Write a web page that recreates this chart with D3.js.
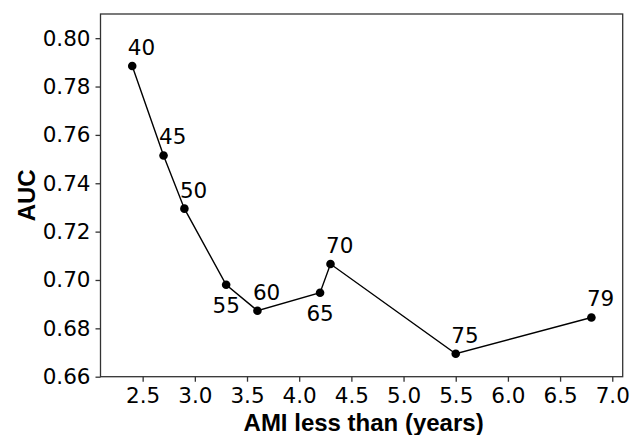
<!DOCTYPE html>
<html>
<head>
<meta charset="utf-8" />
<title></title>
<style>
html, body {
    padding: 0px;
    margin: 0px;
    background: #fff;
}
.tick text {
    font-family: "DejaVu Sans", sans-serif;
    font-size: 21.5px;
    fill: #000;
}
.tick line, .domain {
    stroke: #333;
    stroke-width: 1.3;
}
</style>
</head>
<body>
<div id="chart"></div>
<script src="https://cdnjs.cloudflare.com/ajax/libs/d3/7.8.5/d3.min.js"></script>
<script>
!(function(){
    "use strict"

    // data
    var amiYears = [2.4, 2.7, 2.9, 3.3, 3.6, 4.2, 4.3, 5.5, 6.8]
    var auc      = [0.7885, 0.7515, 0.7295, 0.698, 0.6873, 0.6947, 0.7066, 0.6695, 0.6845]
    var ageLabel = ["40", "45", "50", "55", "60", "65", "70", "75", "79"]
    var xTicks = [2.5, 3.0, 3.5, 4.0, 4.5, 5.0, 5.5, 6.0, 6.5, 7.0]
    var yTicks = [0.66, 0.68, 0.70, 0.72, 0.74, 0.76, 0.78, 0.80]

    var W = 641, H = 435
    var left = 100.5, right = 622.7, top = 14, bottom = 376.7

    var svg = d3.select("#chart").append("svg")
        .attr("width", W).attr("height", H)

    var x = d3.scaleLinear().domain([2.096, 7.1]).range([left, right])
    var y = d3.scaleLinear().domain([0.66, 0.81]).range([bottom, top])

    // frame
    svg.append("rect")
        .attr("x", left).attr("y", top)
        .attr("width", right - left).attr("height", bottom - top)
        .attr("fill", "none").attr("stroke", "#333").attr("stroke-width", 1.3)

    svg.append("g")
        .attr("transform", "translate(0," + bottom + ")")
        .call(d3.axisBottom(x).tickValues(xTicks).tickFormat(d3.format(".1f"))
            .tickSize(5).tickPadding(6).tickSizeOuter(0))
        .call(function(g){ g.select(".domain").remove() })

    svg.append("g")
        .attr("transform", "translate(" + left + ",0)")
        .call(d3.axisLeft(y).tickValues(yTicks).tickFormat(d3.format(".2f"))
            .tickSize(5).tickPadding(5).tickSizeOuter(0))
        .call(function(g){ g.select(".domain").remove() })

    svg.selectAll(".tick text").attr("fill", "#000")

    // axis titles
    svg.append("text")
        .attr("x", (left + right) / 2 + 2).attr("y", 430.5)
        .attr("text-anchor", "middle")
        .style("font-family", "'Liberation Sans', Arial, sans-serif")
        .style("font-weight", "bold").style("font-size", "24px")
        .text("AMI less than (years)")

    svg.append("text")
        .attr("transform", "translate(35," + ((top + bottom) / 2) + ") rotate(-90)")
        .attr("text-anchor", "middle")
        .style("font-family", "'Liberation Sans', Arial, sans-serif")
        .style("font-weight", "bold").style("font-size", "24px")
        .text("AUC")

    var pts = amiYears.map(function(d, i){ return {x: d, y: auc[i], lab: ageLabel[i]} })

    var line = d3.line().x(function(d){ return x(d.x) }).y(function(d){ return y(d.y) })

    svg.append("path")
        .datum(pts)
        .attr("d", line)
        .attr("fill", "none")
        .attr("stroke", "#000")
        .attr("stroke-width", 1.4)

    svg.selectAll("circle.pt")
        .data(pts)
        .enter().append("circle")
        .attr("class", "pt")
        .attr("cx", function(d){ return x(d.x) })
        .attr("cy", function(d){ return y(d.y) })
        .attr("r", 4.3)
        .attr("fill", "#000")

    // 55 and 65 sit under their points
    var below = {"55": true, "65": true}
    svg.selectAll("text.lab")
        .data(pts)
        .enter().append("text")
        .attr("class", "lab")
        .attr("x", function(d){ return below[d.lab] ? x(d.x) : x(d.x) - 4.5 })
        .attr("y", function(d){ return below[d.lab] ? y(d.y) + 28 : y(d.y) - 11 })
        .attr("text-anchor", function(d){ return below[d.lab] ? "middle" : "start" })
        .style("font-family", "'DejaVu Sans', sans-serif")
        .style("font-size", "21.5px")
        .text(function(d){ return d.lab })

}());
</script>
</body>
</html>
